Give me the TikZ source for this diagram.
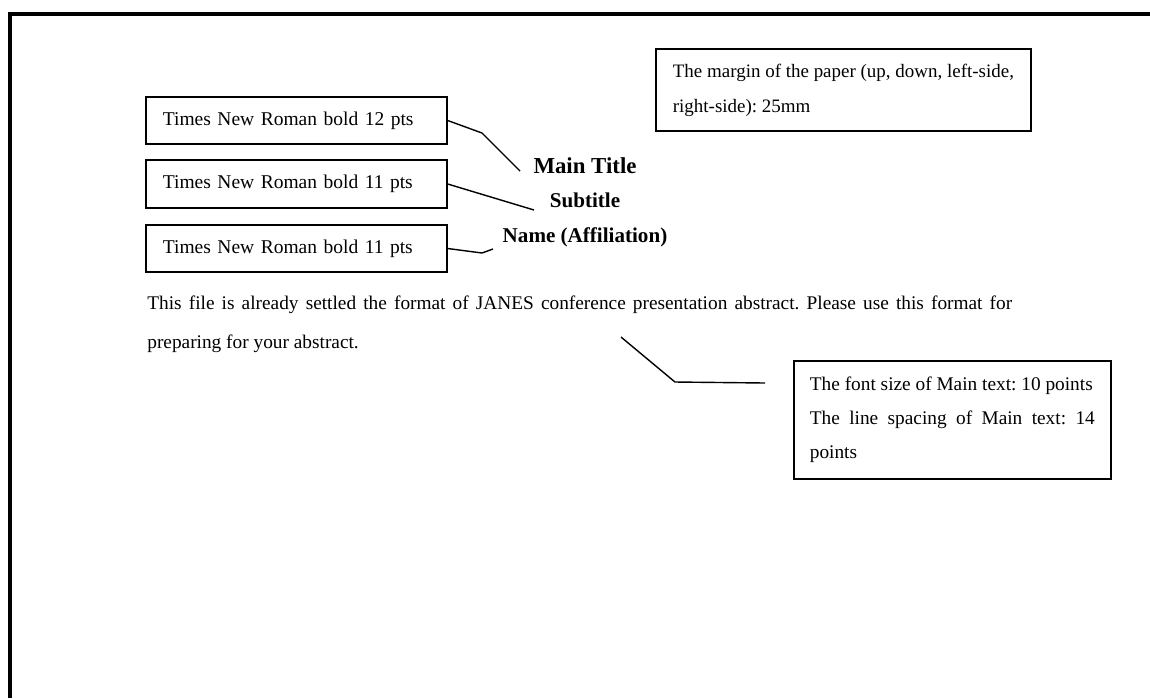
\documentclass[tikz,border=0pt]{standalone}
\usepackage{fontspec}
\setmainfont{Liberation Serif}
\newcommand{\rulew}{1pt}

\begin{document}
\frenchspacing
\begin{tikzpicture}[x=0.02cm,y=-0.02cm,
    tbox/.style={draw, line width=\rulew, anchor=west, align=left,
      inner xsep=.34cm, text width=5.34cm, minimum height=.95cm,
      font=\fontsize{11.1}{14}\selectfont},
    ttl/.style={anchor=base, font=\bfseries\fontsize{12}{14}\selectfont},
    lead/.style={line width=.8pt}]

        \useasboundingbox (0,0) rectangle (1150,698);
        % page edge
        \draw[line width=2.3pt] (10,698) -- (10,14) -- (1150,14);

        \node (tnr12) at (145,120.5) [tbox] {Times New Roman bold 12 pts};
        \node (tnr11a) at (145,184) [tbox] {Times New Roman bold 11 pts};
        \node (tnr11b) at (145,248.5) [tbox] {Times New Roman bold 11 pts};

        \node (main) at (585,173) [ttl, font=\bfseries\fontsize{13}{15}\selectfont] {Main Title};
        \node (sub) at (585,207) [ttl] {Subtitle};
        \node (name) at (585,242) [ttl] {Name (Affiliation)};

        \node (margin) at (655,90) [draw, line width=\rulew, anchor=west, align=left,
          inner xsep=.34cm, minimum width=7.46cm, minimum height=1.64cm,
          font=\fontsize{10.8}{20}\selectfont]
          {The margin of the paper (up, down, left-side,\\ right-side): 25mm};

        \node (body) at (147,296) [anchor=north west, inner sep=0pt, text width=17.3cm,
          align=justify, font=\fontsize{11}{22.2}\selectfont]
          {This file is already settled the format of JANES conference presentation
           abstract. Please use this format for\linebreak preparing for your abstract.};

        \node (fontbox) at (793,420) [draw, line width=\rulew, anchor=west, align=justify,
          inner xsep=.32cm, text width=5.7cm, minimum height=2.36cm,
          font=\fontsize{11}{19.3}\selectfont]
          {The font size of Main text: 10 points\\ The line spacing of Main text: 14\linebreak points};

        \coordinate (k1) at (482,133);
        \coordinate (e1) at (520,171);
        \coordinate (e2) at (534,210);
        \coordinate (k3) at (482,253);
        \coordinate (e3) at (493,249);
        \coordinate (s4) at (621,337);
        \coordinate (k4) at (675,382);
        \coordinate (e4) at (765,383);
        \draw[lead]
        (tnr12.east) -- (k1) -- (e1)
        (tnr11a.east) -- (e2)
        (tnr11b.east) -- (k3) -- (e3)
        (s4) -- (k4) -- (e4);
          \end{tikzpicture}
\end{document}
